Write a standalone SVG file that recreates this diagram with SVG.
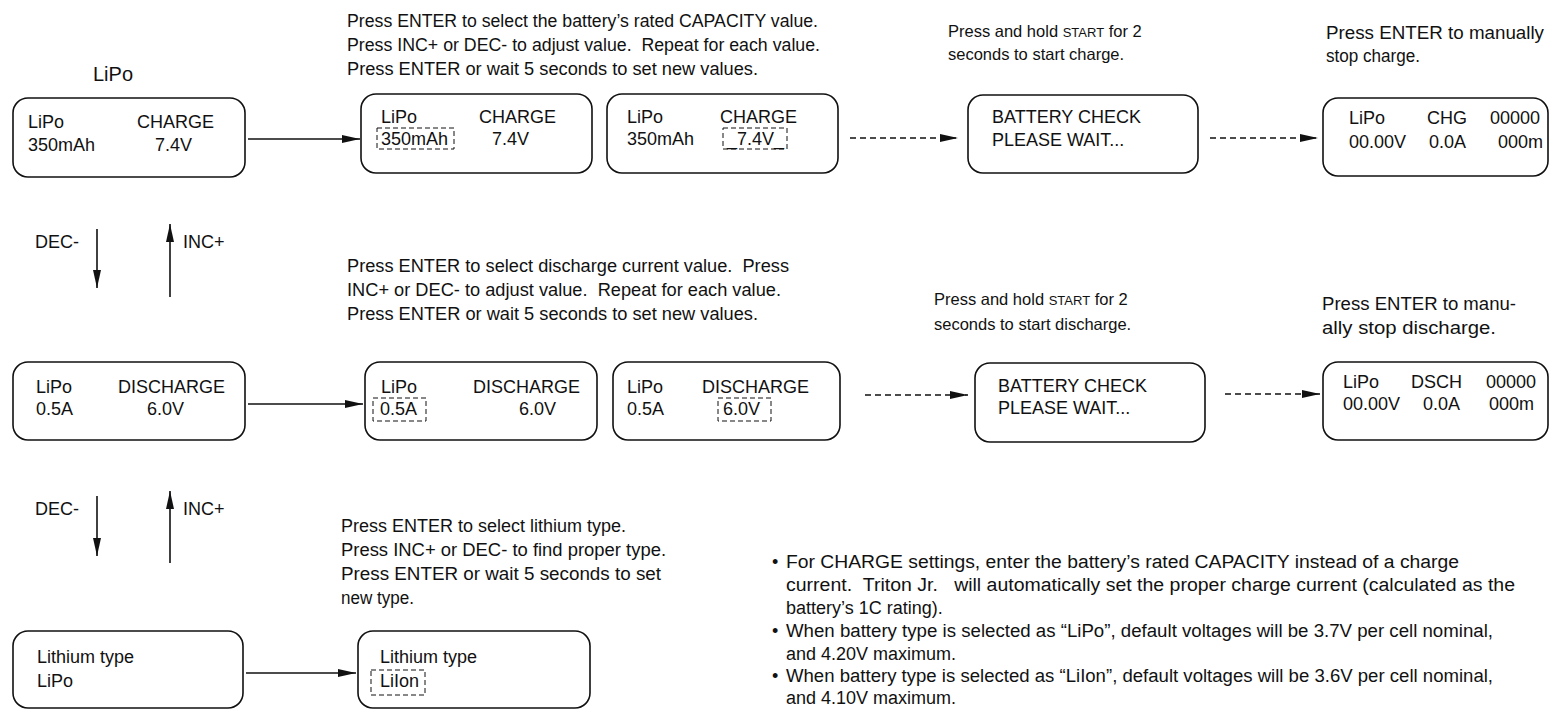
<svg xmlns="http://www.w3.org/2000/svg" width="1549" height="710" viewBox="0 0 1549 710">
<style>
text{font-family:"Liberation Sans",Arial,sans-serif;fill:#111}
.b{fill:#fff;stroke:#111;stroke-width:1.6}
.t{font-size:18px}
.n{font-size:17.5px}
.p{font-size:16.5px}
.s{font-size:13px}
.sel{fill:none;stroke:#111;stroke-width:1;stroke-dasharray:5 3}
.c{fill:none;stroke:#111;stroke-width:1.6}
.d{fill:none;stroke:#111;stroke-width:1.4;stroke-dasharray:6 4}
</style>
<defs>
<marker id="ah" markerUnits="userSpaceOnUse" markerWidth="20" markerHeight="10" refX="18" refY="5" orient="auto">
<path d="M0,1 L18,5 L0,9 Z" fill="#111"/>
</marker>
</defs>
<rect width="1549" height="710" fill="#fff"/>

<text x="93" y="81" style="font-size:20px">LiPo</text>

<g id="connectors">
<line class="c" x1="248" y1="139" x2="360" y2="139" marker-end="url(#ah)"/>
<line class="d" x1="850" y1="138" x2="958" y2="138" marker-end="url(#ah)"/>
<line class="d" x1="1210" y1="138" x2="1318" y2="138" marker-end="url(#ah)"/>
<line class="c" x1="248" y1="404" x2="363" y2="404" marker-end="url(#ah)"/>
<line class="d" x1="865" y1="395" x2="968" y2="395" marker-end="url(#ah)"/>
<line class="d" x1="1225" y1="394" x2="1320" y2="394" marker-end="url(#ah)"/>
<line class="c" x1="246" y1="673" x2="356" y2="673" marker-end="url(#ah)"/>
<line class="c" x1="97" y1="229" x2="97" y2="288" marker-end="url(#ah)"/>
<line class="c" x1="170" y1="297" x2="170" y2="224" marker-end="url(#ah)"/>
<line class="c" x1="97" y1="496" x2="97" y2="556" marker-end="url(#ah)"/>
<line class="c" x1="170" y1="563" x2="170" y2="491" marker-end="url(#ah)"/>
</g>

<text class="t" x="35" y="248">DEC-</text>
<text class="t" x="183" y="248">INC+</text>
<text class="t" x="35" y="515">DEC-</text>
<text class="t" x="183" y="515">INC+</text>

<g id="charge-idle">
<rect class="b" x="13" y="98" width="232" height="79" rx="15"/>
<text class="t" x="28" y="128">LiPo</text>
<text class="t" x="28" y="151">350mAh</text>
<text class="t" x="137" y="128">CHARGE</text>
<text class="t" x="155" y="151">7.4V</text>
</g>
<g id="charge-capacity">
<rect class="b" x="361" y="94" width="231" height="79" rx="15"/>
<text class="t" x="381" y="123">LiPo</text>
<text class="t" x="381" y="145">350mAh</text>
<rect class="sel" x="377" y="128" width="77" height="21"/>
<text class="t" x="479" y="123">CHARGE</text>
<text class="t" x="492" y="145">7.4V</text>
</g>
<g id="charge-voltage">
<rect class="b" x="607" y="94" width="231" height="79" rx="15"/>
<text class="t" x="627" y="123">LiPo</text>
<text class="t" x="627" y="145">350mAh</text>
<text class="t" x="720" y="123">CHARGE</text>
<text class="t" x="727" y="145">_7.4V_</text>
<rect class="sel" x="723" y="128" width="64" height="21"/>
</g>
<g id="charge-check">
<rect class="b" x="968" y="95" width="230" height="78" rx="15"/>
<text class="t" x="992" y="123">BATTERY CHECK</text>
<text class="t" x="992" y="146">PLEASE WAIT...</text>
</g>
<g id="charge-run">
<rect class="b" x="1323" y="98" width="225" height="78" rx="15"/>
<text class="t" x="1349" y="124">LiPo</text>
<text class="t" x="1427" y="124">CHG</text>
<text class="t" x="1490" y="124">00000</text>
<text class="t" x="1349" y="148">00.00V</text>
<text class="t" x="1429" y="148">0.0A</text>
<text class="t" x="1498" y="148">000m</text>
</g>

<g id="discharge-idle">
<rect class="b" x="13" y="362" width="232" height="78" rx="15"/>
<text class="t" x="36" y="393">LiPo</text>
<text class="t" x="36" y="415">0.5A</text>
<text class="t" x="118" y="393">DISCHARGE</text>
<text class="t" x="147" y="415">6.0V</text>
</g>
<g id="discharge-current">
<rect class="b" x="365" y="362" width="232" height="78" rx="15"/>
<text class="t" x="381" y="393">LiPo</text>
<text class="t" x="380" y="415">0.5A</text>
<rect class="sel" x="373" y="398" width="53" height="23"/>
<text class="t" x="473" y="393">DISCHARGE</text>
<text class="t" x="519" y="415">6.0V</text>
</g>
<g id="discharge-voltage">
<rect class="b" x="613" y="362" width="227" height="78" rx="15"/>
<text class="t" x="627" y="393">LiPo</text>
<text class="t" x="627" y="415">0.5A</text>
<text class="t" x="702" y="393">DISCHARGE</text>
<text class="t" x="723" y="415">6.0V</text>
<rect class="sel" x="718" y="398" width="53" height="23"/>
</g>
<g id="discharge-check">
<rect class="b" x="975" y="363" width="230" height="79" rx="15"/>
<text class="t" x="998" y="392">BATTERY CHECK</text>
<text class="t" x="998" y="414">PLEASE WAIT...</text>
</g>
<g id="discharge-run">
<rect class="b" x="1323" y="362" width="225" height="78" rx="15"/>
<text class="t" x="1343" y="388">LiPo</text>
<text class="t" x="1411" y="388">DSCH</text>
<text class="t" x="1486" y="388">00000</text>
<text class="t" x="1343" y="410">00.00V</text>
<text class="t" x="1423" y="410">0.0A</text>
<text class="t" x="1489" y="410">000m</text>
</g>

<g id="lithium-idle">
<rect class="b" x="13" y="631" width="230" height="77" rx="15"/>
<text class="t" x="37" y="663">Lithium type</text>
<text class="t" x="37" y="687">LiPo</text>
</g>
<g id="lithium-select">
<rect class="b" x="358" y="631" width="232" height="77" rx="15"/>
<text class="t" x="380" y="663">Lithium type</text>
<text class="t" x="380" y="687">LiIon</text>
<rect class="sel" x="371" y="670" width="54" height="25"/>
</g>

<g id="notes">
<text class="n" x="347" y="27" textLength="471" lengthAdjust="spacingAndGlyphs">Press ENTER to select the battery’s rated CAPACITY value.</text>
<text class="n" x="347" y="51" textLength="473" lengthAdjust="spacingAndGlyphs">Press INC+ or DEC- to adjust value. &#160;Repeat for each value.</text>
<text class="n" x="347" y="75" textLength="411" lengthAdjust="spacingAndGlyphs">Press ENTER or wait 5 seconds to set new values.</text>

<text class="p" x="948" y="37">Press and hold <tspan class="s">START</tspan> for 2</text>
<text class="p" x="948" y="60">seconds to start charge.</text>
<text class="n" x="1326" y="39" textLength="218" lengthAdjust="spacingAndGlyphs">Press ENTER to manually</text>
<text class="n" x="1326" y="62" textLength="94" lengthAdjust="spacingAndGlyphs">stop charge.</text>

<text class="n" x="347" y="272" textLength="442" lengthAdjust="spacingAndGlyphs">Press ENTER to select discharge current value. &#160;Press</text>
<text class="n" x="347" y="296" textLength="434" lengthAdjust="spacingAndGlyphs">INC+ or DEC- to adjust value. &#160;Repeat for each value.</text>
<text class="n" x="347" y="320" textLength="411" lengthAdjust="spacingAndGlyphs">Press ENTER or wait 5 seconds to set new values.</text>

<text class="p" x="934" y="305">Press and hold <tspan class="s">START</tspan> for 2</text>
<text class="p" x="934" y="330">seconds to start discharge.</text>
<text class="n" x="1322" y="310" textLength="194" lengthAdjust="spacingAndGlyphs">Press ENTER to manu-</text>
<text class="n" x="1322" y="334" textLength="174" lengthAdjust="spacingAndGlyphs">ally stop discharge.</text>

<text class="n" x="341" y="532" textLength="285" lengthAdjust="spacingAndGlyphs">Press ENTER to select lithium type.</text>
<text class="n" x="341" y="556" textLength="325" lengthAdjust="spacingAndGlyphs">Press INC+ or DEC- to find proper type.</text>
<text class="n" x="341" y="580" textLength="320" lengthAdjust="spacingAndGlyphs">Press ENTER or wait 5 seconds to set</text>
<text class="n" x="341" y="604" textLength="73" lengthAdjust="spacingAndGlyphs">new type.</text>

<text class="t" x="772" y="568">•</text>
<text class="t" x="786" y="568" textLength="673" lengthAdjust="spacingAndGlyphs">For CHARGE settings, enter the battery’s rated CAPACITY instead of a charge</text>
<text class="t" x="786" y="591" textLength="729" lengthAdjust="spacingAndGlyphs">current. &#160;Triton Jr. &#160; will automatically set the proper charge current (calculated as the</text>
<text class="t" x="786" y="614">battery’s 1C rating).</text>
<text class="t" x="772" y="637">•</text>
<text class="t" x="786" y="637" textLength="707" lengthAdjust="spacingAndGlyphs">When battery type is selected as “LiPo”, default voltages will be 3.7V per cell nominal,</text>
<text class="t" x="786" y="660">and 4.20V maximum.</text>
<text class="t" x="772" y="682">•</text>
<text class="t" x="786" y="682" textLength="707" lengthAdjust="spacingAndGlyphs">When battery type is selected as “LiIon”, default voltages will be 3.6V per cell nominal,</text>
<text class="t" x="786" y="704">and 4.10V maximum.</text>
</g>
</svg>
